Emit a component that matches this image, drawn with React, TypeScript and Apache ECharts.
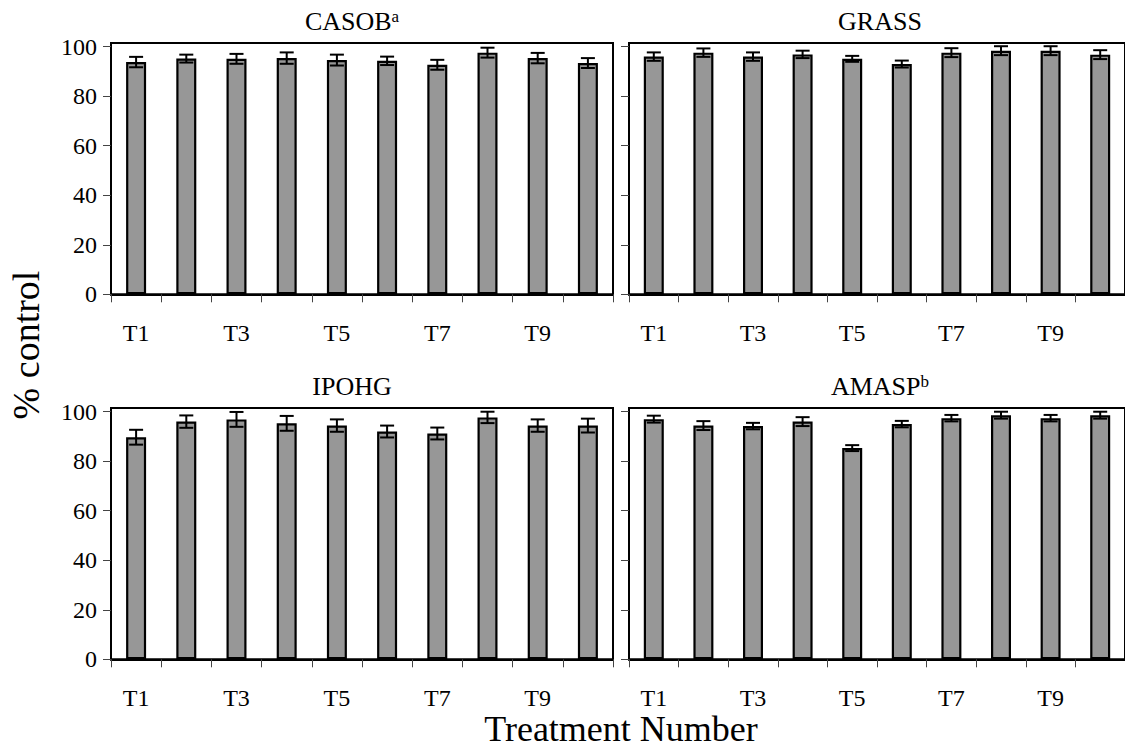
import React, { useEffect, useRef } from "react";
import * as echarts from "echarts";

const categories = ["T1", "T2", "T3", "T4", "T5", "T6", "T7", "T8", "T9", "T10"];

const casobMean = [93.8, 95.2, 95.1, 95.4, 94.6, 94.3, 92.7, 97.6, 95.4, 93.4];
const casobErr = [2.1, 1.6, 2.0, 2.3, 2.2, 1.7, 2.0, 2.0, 2.1, 2.0];

const grassMean = [96.0, 97.6, 96.0, 96.9, 95.1, 93.0, 97.6, 98.4, 98.4, 96.8];
const grassErr = [1.7, 1.7, 1.7, 1.5, 1.2, 1.4, 1.8, 1.8, 1.8, 1.8];

const ipohgMean = [89.7, 96.0, 96.9, 95.3, 94.4, 92.0, 91.2, 97.7, 94.4, 94.4];
const ipohgErr = [3.0, 2.5, 3.0, 3.0, 2.5, 2.4, 2.4, 2.3, 2.5, 2.8];

const amaspMean = [97.0, 94.4, 94.2, 96.0, 85.3, 95.0, 97.4, 98.6, 97.4, 98.6];
const amaspErr = [1.4, 1.8, 1.3, 1.8, 1.2, 1.3, 1.3, 1.4, 1.3, 1.4];

const yTicks = [0, 20, 40, 60, 80, 100];

const panels = [
  { name: "CASOB", sup: "a", mean: casobMean, err: casobErr, left: 111, top: 43, showY: true, tx: 352, ty: 21 },
  { name: "GRASS", sup: "", mean: grassMean, err: grassErr, left: 629, top: 43, showY: false, tx: 880, ty: 21 },
  { name: "IPOHG", sup: "", mean: ipohgMean, err: ipohgErr, left: 111, top: 408, showY: true, tx: 352, ty: 386 },
  { name: "AMASP", sup: "b", mean: amaspMean, err: amaspErr, left: 629, top: 408, showY: false, tx: 880, ty: 386 },
];

const FONT = "'Liberation Serif', 'Times New Roman', serif";

export default function App() {
  const ref = useRef<HTMLDivElement>(null);
  useEffect(() => {
    if (!ref.current) return;
    const chart = echarts.init(ref.current, undefined, { renderer: "svg" });
    const grids: any[] = [];
    const xAxes: any[] = [];
    const yAxes: any[] = [];
    const series: any[] = [];
    const graphics: any[] = [];
    panels.forEach((p, i) => {
      grids.push({
        left: p.left,
        top: p.top,
        width: 502,
        height: 251.3,
        show: true,
        borderColor: "#000",
        borderWidth: 2,
        backgroundColor: "transparent",
      });
      xAxes.push({
        type: "category",
        gridIndex: i,
        data: categories,
        boundaryGap: true,
        axisLine: { lineStyle: { color: "#000", width: 2 } },
        axisTick: { show: true, interval: 0, length: 8, lineStyle: { color: "#444", width: 1 } },
        axisLabel: {
          interval: 1,
          margin: 27,
          color: "#000",
          fontFamily: FONT,
          fontSize: 24,
          lineHeight: 24,
        },
      });
      yAxes.push({
        type: "value",
        gridIndex: i,
        min: 0,
        max: 101.5,
        splitLine: { show: false },
        axisLine: { show: true, lineStyle: { color: "#000", width: 2 } },
        axisTick: { show: true, length: 8, customValues: yTicks, lineStyle: { color: "#444", width: 1 } },
        axisLabel: {
          show: p.showY,
          customValues: yTicks,
          margin: 14,
          color: "#000",
          fontFamily: FONT,
          fontSize: 24,
        },
      });
      series.push({
        type: "bar",
        xAxisIndex: i,
        yAxisIndex: i,
        data: p.mean,
        barWidth: 20,
        itemStyle: { color: "#979797", borderColor: "#000", borderWidth: 2.2 },
        silent: true,
      });
      series.push({
        type: "custom",
        xAxisIndex: i,
        yAxisIndex: i,
        data: p.mean.map((m, j) => [j, m - p.err[j], m + p.err[j]]),
        renderItem: (params: any, api: any) => {
          const x = api.value(0);
          const lo = api.coord([x, api.value(1)]);
          const hi = api.coord([x, api.value(2)]);
          const w = 7;
          const st = { stroke: "#000", lineWidth: 2 };
          return {
            type: "group",
            children: [
              { type: "line", shape: { x1: lo[0], y1: lo[1], x2: hi[0], y2: hi[1] }, style: st },
              { type: "line", shape: { x1: lo[0] - w, y1: lo[1], x2: lo[0] + w, y2: lo[1] }, style: st },
              { type: "line", shape: { x1: hi[0] - w, y1: hi[1], x2: hi[0] + w, y2: hi[1] }, style: st },
            ],
          };
        },
        z: 10,
        silent: true,
      });
      graphics.push({
        type: "text",
        x: p.tx,
        y: p.ty,
        style: {
          text: p.sup ? `{m|${p.name}}{s|${p.sup}}` : `{m|${p.name}}`,
          rich: {
            m: { fontFamily: FONT, fontSize: 26, fill: "#000" },
            s: { fontFamily: FONT, fontSize: 17, fill: "#000", verticalAlign: "top", padding: [0, 0, 10, 0] },
          },
          align: "center",
          verticalAlign: "middle",
        },
      });
    });
    graphics.push({
      type: "text",
      x: 26,
      y: 345,
      rotation: Math.PI / 2,
      style: {
        text: "% control",
        fontFamily: FONT,
        fontSize: 38,
        fill: "#000",
        align: "center",
        verticalAlign: "middle",
      },
    });
    graphics.push({
      type: "text",
      x: 621,
      y: 729,
      style: {
        text: "Treatment Number",
        fontFamily: FONT,
        fontSize: 36,
        lineHeight: 36,
        fill: "#000",
        align: "center",
        verticalAlign: "middle",
      },
    });
    chart.setOption({
      animation: false,
      backgroundColor: "#fff",
      grid: grids,
      xAxis: xAxes,
      yAxis: yAxes,
      series,
      graphic: graphics,
    });
    return () => chart.dispose();
  }, []);
  return (
    <div
      ref={ref}
      style={{ position: "fixed", left: 0, top: 0, width: 1125, height: 749, overflow: "hidden" }}
    />
  );
}
